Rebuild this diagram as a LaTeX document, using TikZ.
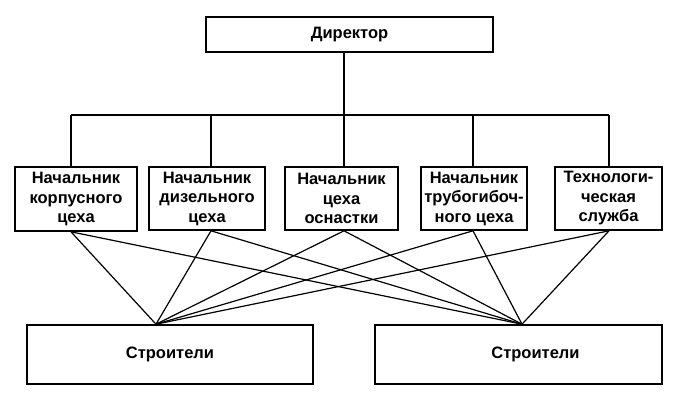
\documentclass[tikz,border=0pt]{standalone}
\usepackage{fontspec}
\setmainfont{Liberation Sans}
\begin{document}
\begin{tikzpicture}[x=1pt,y=-1pt,
  box/.style={draw, line width=1.6pt, inner sep=0pt, align=center,
    font=\bfseries\fontsize{16.5}{19.5}\selectfont},
  link/.style={line width=1.2pt},
  tree/.style={line width=1.4pt}]
\useasboundingbox (0,0) rectangle (682,400);
\node[box, minimum width=287pt, minimum height=35pt] (dir) at (349.5,34.5) {Директор};
\node[box, minimum width=122pt, minimum height=64pt] (n1) at (76,199) {Начальник\\корпусного\\цеха};
\node[box, minimum width=116pt, minimum height=63pt] (n2) at (207,198.5) {Начальник\\дизельного\\цеха};
\node[box, minimum width=113pt, minimum height=63pt] (n3) at (341.5,198.5) {Начальник\\цеха\\оснастки};
\node[box, minimum width=106pt, minimum height=63pt] (n4) at (474,198.5) {Начальник\\трубогибоч-\\ного цеха};
\node[box, minimum width=107pt, minimum height=63pt] (n5) at (608.5,198.5) {Технологи-\\ческая\\служба};
\node[box, minimum width=286pt, minimum height=59pt] (s1) at (170,354.5) {Строители};
\node[box, minimum width=287pt, minimum height=59pt] (s2) at (518.5,354.5) {\hspace*{34pt}Строители};
% anchor points
\coordinate (bus) at (344,115);
\coordinate (d1) at ([xshift=-5pt]n1.north);
\coordinate (d2) at ([xshift=4pt]n2.north);
\coordinate (d3) at ([xshift=2.5pt]n3.north);
\coordinate (d4) at ([xshift=-1pt]n4.north);
\coordinate (d5) at ([xshift=0.5pt]n5.north);
\coordinate (b1) at ([xshift=-5pt]n1.south);
\coordinate (b2) at ([xshift=4pt]n2.south);
\coordinate (b3) at ([xshift=2.5pt]n3.south);
\coordinate (b4) at ([xshift=-1pt]n4.south);
\coordinate (b5) at ([xshift=0.5pt]n5.south);
\coordinate (a1) at ([xshift=-14pt]s1.north);
\coordinate (a2) at ([xshift=3.5pt]s2.north);
% tree
\draw[tree] (dir.south -| bus) -- (bus);
\draw[tree] (d1 |- bus) -- (d5 |- bus);
\foreach \d in {d1,d2,d3,d4,d5} \draw[tree] (\d |- bus) -- (\d);
% links
\foreach \b in {b1,b2,b3,b4,b5} {
  \draw[link] (\b) -- (a1);
  \draw[link] (\b) -- (a2);
}
\end{tikzpicture}
\end{document}
